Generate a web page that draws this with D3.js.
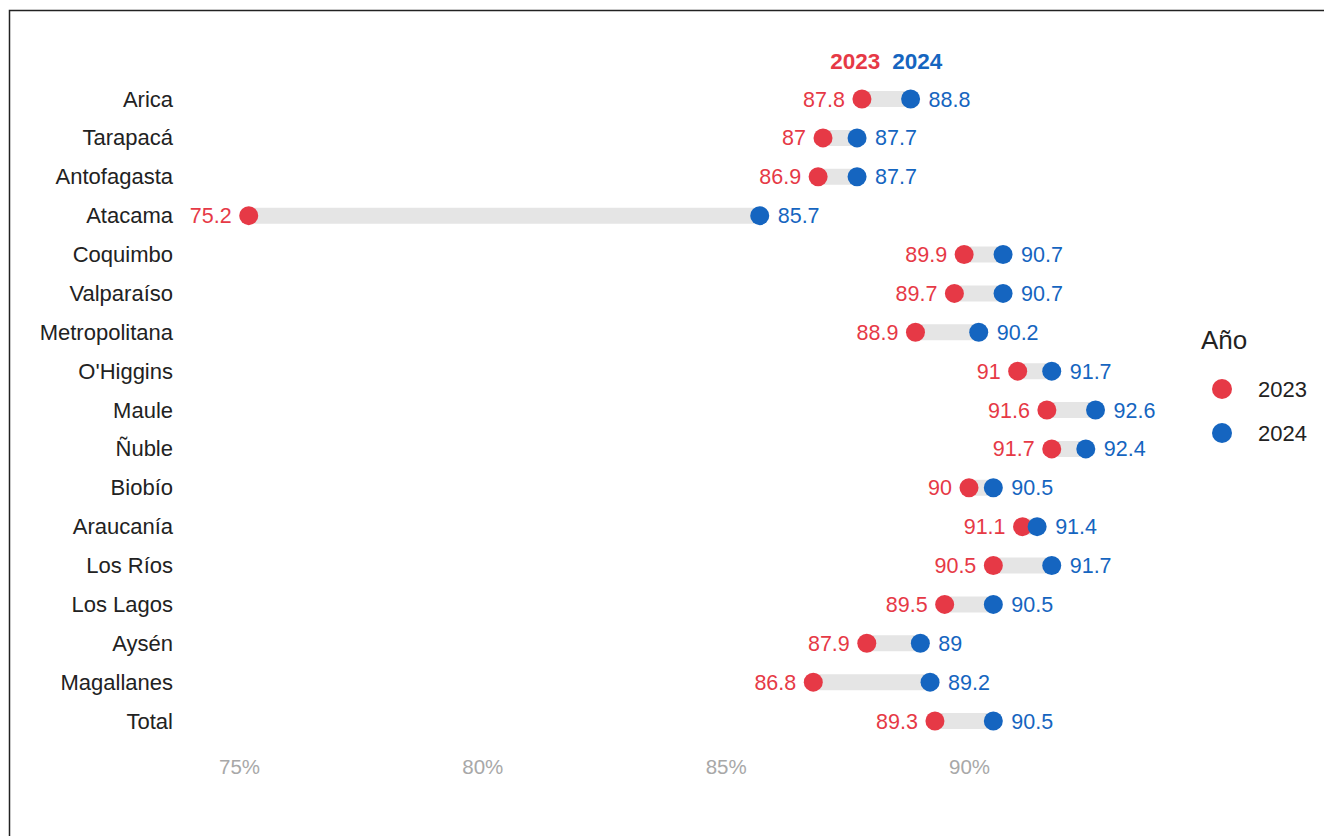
<!DOCTYPE html>
<html>
<head>
<meta charset="utf-8">
<script src="https://cdn.jsdelivr.net/npm/d3@7"></script>
<style>
  body { margin: 0; background: #fff; }
  svg { font-family: "Liberation Sans", Arial, sans-serif; }
</style>
</head>
<body>
<div id="chart"></div>
<script>
// Datos por región
const regiones = ["Arica", "Tarapacá", "Antofagasta", "Atacama", "Coquimbo", "Valparaíso",
  "Metropolitana", "O'Higgins", "Maule", "Ñuble", "Biobío", "Araucanía", "Los Ríos",
  "Los Lagos", "Aysén", "Magallanes", "Total"];
const valores2023 = [87.8, 87, 86.9, 75.2, 89.9, 89.7, 88.9, 91, 91.6, 91.7, 90, 91.1, 90.5, 89.5, 87.9, 86.8, 89.3];
const valores2024 = [88.8, 87.7, 87.7, 85.7, 90.7, 90.7, 90.2, 91.7, 92.6, 92.4, 90.5, 91.4, 91.7, 90.5, 89, 89.2, 90.5];
const ticks = [75, 80, 85, 90];
const anios = ["2023", "2024"];

const rojo = "#e63946";
const azul = "#1565c0";

let width = 1324;
let height = 836;
let svg = d3.select('#chart')
    .append('svg')
    .attr('width', width)
    .attr('height', height);

// Marco
svg.append('rect')
    .attr('x', 9.5).attr('y', 10.5)
    .attr('width', 1400).attr('height', 900)
    .attr('fill', 'none')
    .attr('stroke', '#222')
    .attr('stroke-width', 1.5);

// Escalas
let x = d3.scaleLinear().domain([75, 90]).range([239, 969]);
let y = d3.scalePoint().domain(regiones).range([99, 721]);

let data = regiones.map((r, i) => ({ region: r, a: valores2023[i], b: valores2024[i] }));

// Eje x (solo etiquetas)
let xAxis = svg.append('g')
    .attr('transform', 'translate(0,756)')
    .call(d3.axisBottom(x).tickValues(ticks).tickFormat(d => d + '%').tickSize(0));
xAxis.select('.domain').remove();
xAxis.selectAll('text')
    .attr('fill', '#a8a8a8')
    .attr('font-size', 20.5)
    .attr('font-family', '"Liberation Sans", Arial, sans-serif');

// Eje y (nombres de regiones)
let yAxis = svg.append('g')
    .attr('transform', 'translate(182,0)')
    .call(d3.axisLeft(y).tickSize(0).tickPadding(9));
yAxis.select('.domain').remove();
yAxis.selectAll('text')
    .attr('fill', '#222')
    .attr('font-size', 22)
    .attr('font-family', '"Liberation Sans", Arial, sans-serif');

let rows = svg.selectAll('g.row')
    .data(data)
    .enter()
    .append('g')
    .attr('class', 'row');

// Barra gris entre años
rows.append('line')
    .attr('x1', d => x(d.a))
    .attr('x2', d => x(d.b))
    .attr('y1', d => y(d.region))
    .attr('y2', d => y(d.region))
    .attr('stroke', '#e5e5e5')
    .attr('stroke-width', 16);

rows.append('circle')
    .attr('cx', d => x(d.a))
    .attr('cy', d => y(d.region))
    .attr('r', 9.5)
    .attr('fill', rojo);

rows.append('circle')
    .attr('cx', d => x(d.b))
    .attr('cy', d => y(d.region))
    .attr('r', 9.5)
    .attr('fill', azul);

rows.append('text')
    .attr('x', d => x(d.a) - 17)
    .attr('y', d => y(d.region))
    .attr('dy', '0.35em')
    .attr('text-anchor', 'end')
    .attr('font-size', 21.5)
    .attr('fill', rojo)
    .text(d => d.a);

rows.append('text')
    .attr('x', d => x(d.b) + 18)
    .attr('y', d => y(d.region))
    .attr('dy', '0.35em')
    .attr('font-size', 21.5)
    .attr('fill', azul)
    .text(d => d.b);

// Encabezado de años sobre la primera fila
let mid = (x(data[0].a) + x(data[0].b)) / 2;
svg.append('text')
    .attr('x', mid - 6).attr('y', y(regiones[0]) - 38)
    .attr('dy', '0.35em')
    .attr('text-anchor', 'end')
    .attr('font-size', 22.5).attr('font-weight', 'bold')
    .attr('fill', rojo)
    .text(anios[0]);
svg.append('text')
    .attr('x', mid + 6).attr('y', y(regiones[0]) - 38)
    .attr('dy', '0.35em')
    .attr('font-size', 22.5).attr('font-weight', 'bold')
    .attr('fill', azul)
    .text(anios[1]);

// Leyenda
let legend = svg.append('g').attr('transform', 'translate(1201,340)');
legend.append('text')
    .attr('x', 0).attr('y', 0)
    .attr('dy', '0.35em')
    .attr('font-size', 26)
    .attr('fill', '#222')
    .text('Año');
legend.selectAll('g.item')
    .data(anios)
    .enter()
    .append('g')
    .attr('class', 'item')
    .attr('transform', (d, i) => `translate(0,${49 + i * 44})`)
    .each(function (d, i) {
        let g = d3.select(this);
        g.append('circle').attr('cx', 21).attr('cy', 0).attr('r', 10).attr('fill', i === 0 ? rojo : azul);
        g.append('text').attr('x', 57).attr('y', 0).attr('dy', '0.35em')
            .attr('font-size', 22).attr('fill', '#222').text(d);
    });
</script>
</body>
</html>
